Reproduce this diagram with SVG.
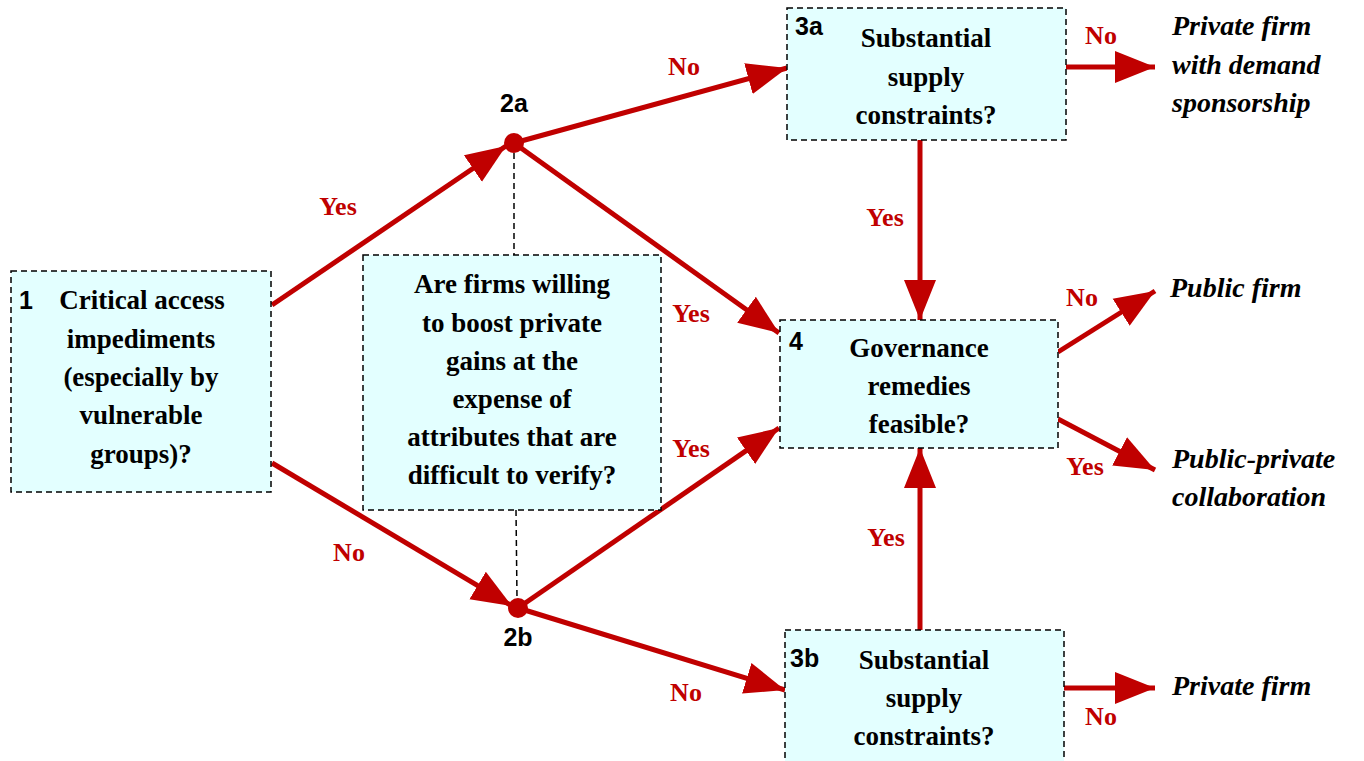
<svg xmlns="http://www.w3.org/2000/svg" width="1364" height="761" viewBox="0 0 1364 761">
<style>
.box{fill:#e3ffff;stroke:#000;stroke-width:1.5;stroke-dasharray:6,4}
.arr{stroke:#c00000;stroke-width:5;fill:none;marker-end:url(#ah)}
.dl{stroke:#000;stroke-width:1.5;stroke-dasharray:6,4;fill:none}
</style>
<defs>
<marker id="ah" markerUnits="userSpaceOnUse" markerWidth="42" markerHeight="34" refX="40" refY="17" orient="auto">
<path d="M0,1 L40,17 L0,33 Z" fill="#c00000"/>
</marker>
</defs>
<rect width="1364" height="761" fill="#fff"/>
<g id="connectors">
<line class="dl" x1="514" y1="153" x2="514" y2="255"/>
<line class="dl" x1="516" y1="510" x2="517" y2="598"/>
<line class="arr" x1="272" y1="305" x2="506" y2="146"/>
<line class="arr" x1="272" y1="463" x2="512" y2="606"/>
<line class="arr" x1="514" y1="143" x2="787" y2="68"/>
<line class="arr" x1="514" y1="143" x2="779" y2="333"/>
<line class="arr" x1="518" y1="608" x2="779" y2="428"/>
<line class="arr" x1="518" y1="608" x2="785" y2="690"/>
<line class="arr" x1="920" y1="140" x2="920" y2="320"/>
<line class="arr" x1="920" y1="630" x2="920" y2="448"/>
<line class="arr" x1="1066" y1="67" x2="1155" y2="67"/>
<line class="arr" x1="1058" y1="352" x2="1155" y2="291"/>
<line class="arr" x1="1058" y1="419" x2="1155" y2="470"/>
<line class="arr" x1="1064" y1="688" x2="1155" y2="688"/>
<g font-family="Liberation Serif, serif" font-weight="bold" font-size="26" fill="#c00000" text-anchor="middle">
<text x="338" y="215">Yes</text>
<text x="349" y="561">No</text>
<text x="684" y="75">No</text>
<text x="691" y="322">Yes</text>
<text x="691" y="457">Yes</text>
<text x="686" y="701">No</text>
<text x="885" y="226">Yes</text>
<text x="886" y="546">Yes</text>
<text x="1101" y="44">No</text>
<text x="1082" y="306">No</text>
<text x="1085" y="475">Yes</text>
<text x="1101" y="725">No</text>
</g>
</g>
<g font-family="Liberation Serif, serif" font-weight="bold" font-size="27" fill="#000" text-anchor="middle">
<g id="n1">
<rect class="box" x="11" y="271" width="260" height="221"/>
<text x="19" y="309" text-anchor="start" font-family="Liberation Sans, sans-serif" font-size="25">1</text>
<text x="142" y="309">Critical access</text>
<text x="141" y="348">impediments</text>
<text x="141" y="386">(especially by</text>
<text x="141" y="424">vulnerable</text>
<text x="141" y="463">groups)?</text>
</g>
<g id="n2a">
<circle cx="514" cy="143" r="10" fill="#c00000"/>
<text x="514" y="112" font-family="Liberation Sans, sans-serif" font-size="25">2a</text>
</g>
<g id="n2b">
<circle cx="518" cy="608" r="10" fill="#c00000"/>
<text x="518" y="646" font-family="Liberation Sans, sans-serif" font-size="25">2b</text>
</g>
<g id="q">
<rect class="box" x="363" y="255" width="298" height="255"/>
<text x="512" y="293">Are firms willing</text>
<text x="512" y="332">to boost private</text>
<text x="512" y="370">gains at the</text>
<text x="512" y="408">expense of</text>
<text x="512" y="446">attributes that are</text>
<text x="512" y="484">difficult to verify?</text>
</g>
<g id="n3a">
<rect class="box" x="787" y="8" width="279" height="132"/>
<text x="795" y="35" text-anchor="start" font-family="Liberation Sans, sans-serif" font-size="25">3a</text>
<text x="926" y="47">Substantial</text>
<text x="926" y="86">supply</text>
<text x="926" y="124">constraints?</text>
</g>
<g id="n4">
<rect class="box" x="780" y="320" width="278" height="128"/>
<text x="789" y="350" text-anchor="start" font-family="Liberation Sans, sans-serif" font-size="25">4</text>
<text x="919" y="357">Governance</text>
<text x="919" y="395">remedies</text>
<text x="919" y="433">feasible?</text>
</g>
<g id="n3b">
<rect class="box" x="785" y="630" width="279" height="140"/>
<text x="790" y="667" text-anchor="start" font-family="Liberation Sans, sans-serif" font-size="25">3b</text>
<text x="924" y="669">Substantial</text>
<text x="924" y="707">supply</text>
<text x="924" y="745">constraints?</text>
</g>
</g>
<g font-family="Liberation Serif, serif" font-weight="bold" font-style="italic" font-size="28" fill="#000">
<g id="o1">
<text x="1172" y="35">Private firm</text>
<text x="1172" y="74">with demand</text>
<text x="1172" y="112">sponsorship</text>
</g>
<g id="o2"><text x="1170" y="297">Public firm</text></g>
<g id="o3">
<text x="1172" y="468">Public-private</text>
<text x="1172" y="506">collaboration</text>
</g>
<g id="o4"><text x="1172" y="695">Private firm</text></g>
</g>
</svg>
